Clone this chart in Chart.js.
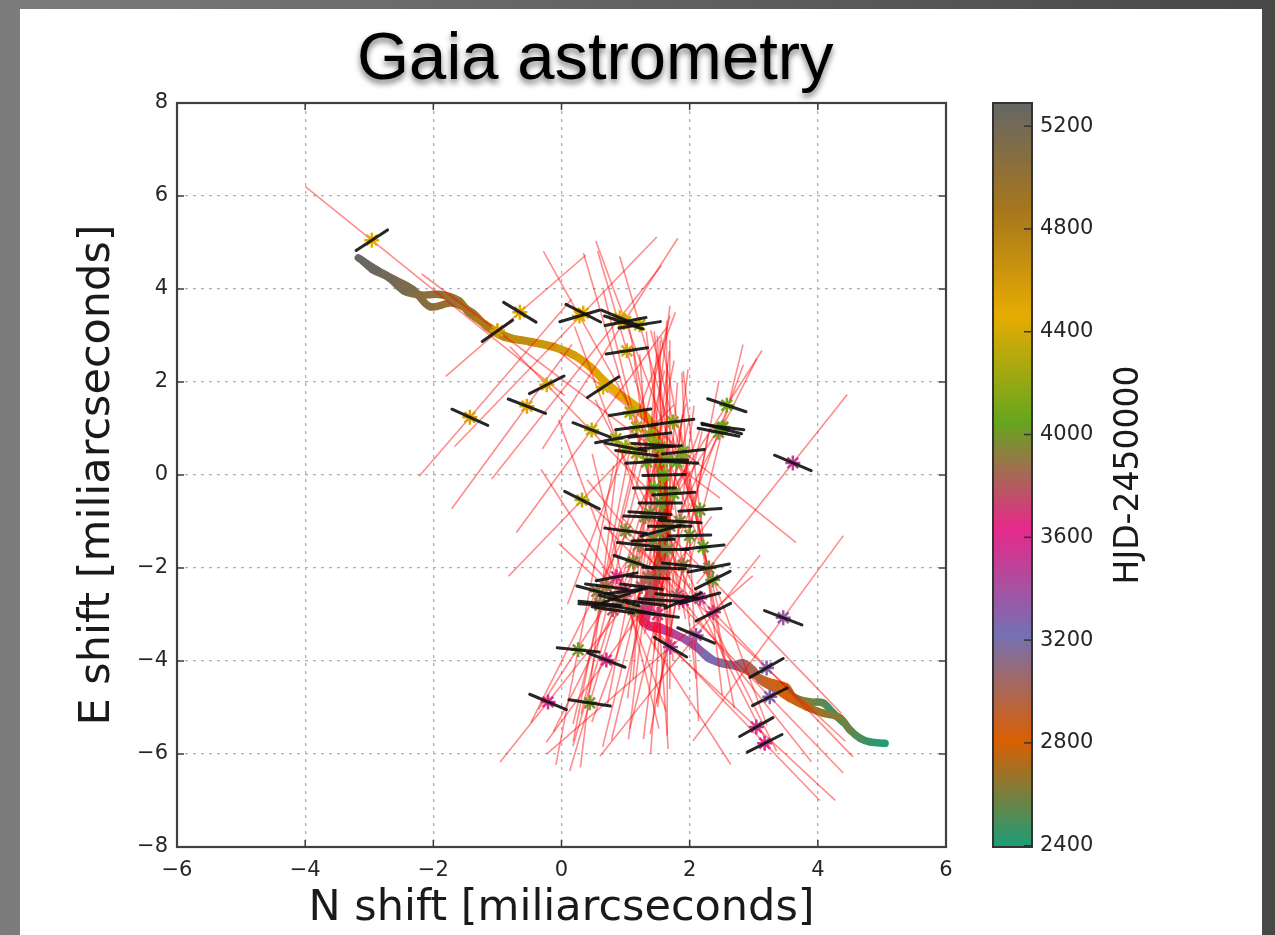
<!DOCTYPE html>
<html>
<head>
<meta charset="utf-8">
<title>Gaia astrometry</title>
<script src="https://cdn.jsdelivr.net/npm/chart.js@4.4.0/dist/chart.umd.min.js"></script>
<style>
  html, body { margin: 0; padding: 0; }
  body {
    width: 1275px; height: 935px; overflow: hidden; position: relative;
    background: linear-gradient(to right, #7c7c7c 0%, #676767 40%, #484848 100%);
  }
  #panel { position: absolute; left: 20px; top: 9px; width: 1242px; height: 926px; background: #fff; }
  #title {
    position: absolute; left: 357px; top: 22px; z-index: 2;
    font: 67px/67px 'Liberation Sans', Arial, sans-serif; color: #000;
    text-shadow: 0 4px 6px rgba(0, 0, 0, 0.55); white-space: nowrap;
  }
  #c { position: absolute; left: 0; top: 0; z-index: 1; }
</style>
</head>
<body>
<div id="panel"></div>
<div id="title">Gaia astrometry</div>
<canvas id="c" width="1275" height="935"></canvas>
<script>
// axis ticks
const xTicks = [-6, -4, -2, 0, 2, 4, 6];
const yTicks = [-8, -6, -4, -2, 0, 2, 4, 6, 8];
const cbTicks = [2400, 2800, 3200, 3600, 4000, 4400, 4800, 5200];
const cbMin = 2395;
const cbMax = 5290;

// Dark2 colours, spread evenly over the colour bar
const cmapColors = ['#1b9e77', '#d95f02', '#7570b3', '#e7298a', '#66a61e', '#e6ab02', '#a6761d', '#666666'];

// model track A (lower strand at the bottom right)
const modelAx = [5.05, 4.81, 4.66, 4.50, 4.34, 4.08, 3.83, 3.56, 3.36, 3.10,
  2.99, 2.83, 2.68, 2.42, 2.16, 1.85, 1.54, 1.27, 1.33, 1.45,
  1.55, 1.60, 1.58, 1.54, 1.49, 1.38, 1.18, 0.91, 0.65, 0.44,
  0.18, -0.13, -0.49, -0.90, -1.16, -1.38, -1.69, -2.05, -2.31, -2.60,
  -2.88, -3.17];
const modelAy = [-5.77, -5.74, -5.66, -5.48, -5.22, -5.12, -4.99, -4.80, -4.62, -4.41,
  -4.19, -4.04, -4.09, -4.02, -3.76, -3.48, -3.27, -3.16, -2.70, -2.20,
  -1.60, -1.00, -0.40, 0.17, 0.69, 1.12, 1.44, 1.72, 2.04, 2.33,
  2.58, 2.75, 2.86, 2.97, 3.18, 3.48, 3.70, 3.62, 3.98, 4.20,
  4.41, 4.67];
const modelAt = [2400, 2440, 2480, 2540, 2600, 2660, 2720, 2790, 2850, 2920,
  2980, 3040, 3110, 3200, 3300, 3400, 3540, 3640, 3740, 3840,
  3930, 4020, 4110, 4200, 4270, 4340, 4400, 4450, 4490, 4530,
  4570, 4610, 4660, 4740, 4800, 4880, 4960, 5040, 5110, 5180,
  5240, 5290];

// model track B (upper strand at the bottom right)
const modelBx = [4.39, 4.24, 4.08, 3.88, 3.62, 3.51, 3.30, 3.10, 2.95, 2.80,
  2.55, 2.30, 2.05, 1.80, 1.55, 1.32, 1.40, 1.50, 1.58, 1.62,
  1.60, 1.56, 1.50, 1.40, 1.20, 0.93, 0.66, 0.45, 0.20, -0.10,
  -0.45, -0.85, -1.20, -1.45, -1.60, -1.90, -2.20, -2.45, -2.70, -2.95,
  -3.10];
const modelBy = [-5.31, -5.12, -4.90, -4.88, -4.77, -4.56, -4.47, -4.37, -4.25, -4.15,
  -4.05, -3.95, -3.62, -3.45, -3.33, -3.20, -2.70, -2.20, -1.60, -1.00,
  -0.40, 0.17, 0.69, 1.12, 1.44, 1.72, 2.04, 2.33, 2.58, 2.75,
  2.86, 2.98, 3.25, 3.50, 3.75, 3.88, 3.87, 3.95, 4.25, 4.42,
  4.60];
const modelBt = [2400, 2450, 2510, 2580, 2660, 2730, 2800, 2880, 2960, 3040,
  3120, 3200, 3290, 3380, 3480, 3600, 3720, 3820, 3920, 4010,
  4100, 4190, 4260, 4330, 4390, 4440, 4480, 4520, 4560, 4600,
  4650, 4720, 4800, 4870, 4930, 5000, 5070, 5140, 5200, 5260,
  5290];

// single Gaia scans: position, epoch, along-scan angle (deg), scan line extent each side
const obsX = [-2.96, -0.65, -1.00, 0.34, 0.28, 0.91, 0.97, 1.22, 1.02, -0.23,
  -0.54, -1.43, 0.65, 1.07, 0.47, 0.85, 1.74, 1.38, 1.54, 1.17,
  1.33, 1.80, 1.45, 0.32, 2.58, 2.52, 2.45, 3.61, 1.54, 2.16,
  1.85, 1.69, 1.43, 2.21, 1.90, 1.12, 2.36, 0.86, 0.70, 0.60,
  1.12, 1.54, 1.80, 2.16, 2.37, 3.46, 0.26, 0.70, -0.21, 0.44,
  3.20, 3.25, 3.04, 3.17, 1.70, 2.10, 1.60, 1.30, 1.00, 1.35,
  1.00, 0.90, 1.38, 1.64, 1.43, 1.17, 1.25, 1.60, 1.75, 1.20,
  2.00, 0.80, 1.50, 1.00, 1.90, 2.30, 0.55, 1.65, 2.50, 1.00,
  0.60, 1.30, 0.95, 1.90, 1.55];
const obsY = [5.05, 3.50, 3.10, 3.48, 3.42, 3.38, 3.28, 3.23, 2.67, 1.94,
  1.48, 1.24, 1.89, 1.35, 0.97, 0.78, 1.14, 0.86, 0.60, 0.47,
  0.28, 0.28, -0.28, -0.54, 1.50, 1.03, 0.92, 0.26, -0.60, -0.75,
  -1.00, -1.10, -1.40, -1.55, -1.94, -1.87, -2.26, -2.19, -2.40, -2.76,
  -2.90, -2.69, -2.60, -2.65, -2.95, -3.07, -3.76, -3.98, -4.88, -4.90,
  -4.15, -4.77, -5.42, -5.77, -3.70, -3.45, 0.00, -0.90, -1.20, -2.20,
  -2.50, -2.70, -0.82, 0.32, 0.65, 1.03, -2.40, -2.00, -0.40, -1.50,
  -1.30, -2.90, -3.00, 0.60, 0.50, -2.00, -2.50, -1.60, 1.00, 3.30,
  -2.80, -2.75, -2.60, -2.70, -1.20];
const obsT = [4480, 4500, 4550, 4450, 4480, 4470, 4300, 4350, 4400, 4450,
  4500, 4550, 4420, 4300, 4350, 4250, 4150, 4200, 4150, 4250,
  4100, 4050, 4050, 4300, 4100, 4050, 4000, 3500, 4000, 4000,
  3950, 3900, 3950, 4050, 3900, 3950, 4000, 3650, 3900, 3950,
  3900, 3850, 3800, 3500, 3700, 3350, 4000, 3600, 3600, 4000,
  3300, 3300, 3550, 3600, 3500, 3400, 4100, 3950, 3950, 3850,
  3700, 3900, 3950, 4100, 4150, 4250, 3800, 3850, 4050, 3900,
  4000, 3800, 3700, 4200, 4100, 3900, 3900, 3950, 4050, 4400,
  3850, 3750, 3850, 3600, 3950];
const obsAngle = [42, -40, 44, -35, 22, -30, -25, 12, 12, 35,
  -28, -32, 42, 12, -28, 15, 10, 8, 5, -10,
  5, -5, 0, -35, -25, -10, -15, -30, 0, 5,
  -5, 0, 3, 8, -8, -25, 35, 15, -10, -8,
  -15, -5, -8, 20, 35, -28, -8, -28, -30, -12,
  38, 35, 38, 35, -40, -30, 2, -3, -10, -5,
  10, -20, -5, 0, -5, 10, -10, -3, 5, -8,
  2, -12, -10, -15, 8, 15, -20, 0, -20, 15,
  -5, -10, 25, 30, 20];
const obsRedUp = [1.55, 1.6, 1.7, 2.0, 1.5, 1.3, 2.0, 1.5, 2.2, 1.0,
  1.5, 3.0, 1.0, 3.5, 2.5, 2.5, 2.0, 2.5, 2.5, 3.0,
  2.5, 2.0, 2.5, 2.5, 1.3, 1.8, 1.5, 1.7, 3.5, 3.0,
  2.5, 4.0, 4.0, 2.5, 4.0, 3.0, 2.0, 3.5, 3.0, 3.5,
  4.0, 4.0, 3.5, 2.5, 2.5, 2.0, 4.0, 3.5, 4.0, 4.0,
  4.5, 4.5, 5.0, 5.0, 2.0, 2.0, 3.0, 3.5, 3.5, 3.5,
  3.0, 3.0, 3.5, 3.0, 3.0, 3.0, 4.0, 4.0, 3.5, 4.0,
  3.5, 4.0, 4.0, 3.0, 2.5, 3.0, 3.5, 4.0, 1.6, 1.8,
  3.5, 4.0, 3.0, 3.0, 3.0];
const obsRedDown = [4.5, 1.8, 5.0, 3.5, 3.5, 4.0, 3.0, 5.0, 3.5, 4.0,
  2.5, 1.5, 4.5, 2.5, 2.5, 3.0, 4.0, 4.0, 3.5, 3.0,
  4.0, 4.0, 3.5, 2.0, 4.5, 4.0, 4.5, 3.0, 3.0, 4.0,
  4.0, 3.5, 4.5, 3.5, 3.0, 3.5, 3.5, 3.0, 3.0, 3.0,
  2.5, 3.0, 3.0, 3.5, 3.8, 3.0, 2.5, 2.0, 1.5, 1.5,
  2.0, 2.0, 2.0, 1.5, 3.0, 3.0, 4.0, 3.5, 4.0, 3.5,
  3.0, 3.0, 4.0, 4.0, 4.0, 3.5, 3.5, 4.0, 4.0, 3.5,
  4.0, 3.0, 2.5, 3.5, 4.5, 3.5, 3.0, 4.0, 4.2, 4.5,
  3.5, 3.0, 4.0, 4.0, 5.0];
const errHalf = 0.33;

function hexToRgb(h) {
  return [parseInt(h.slice(1, 3), 16), parseInt(h.slice(3, 5), 16), parseInt(h.slice(5, 7), 16)];
}
const cmapRgb = cmapColors.map(hexToRgb);

function cmap(t) {
  const n = cmapRgb.length - 1;
  let f = (t - cbMin) / (cbMax - cbMin) * n;
  f = Math.max(0, Math.min(n, f));
  const i = Math.min(Math.floor(f), n - 1);
  const u = f - i;
  const a = cmapRgb[i], b = cmapRgb[i + 1];
  return 'rgb(' + a.map((v, k) => Math.round(v + (b[k] - v) * u)).join(',') + ')';
}

function fmt(v) {
  return v < 0 ? '\u2212' + Math.abs(v) : String(v);
}

const datasets = [];

// model tracks, coloured by epoch
[[modelAx, modelAy, modelAt], [modelBx, modelBy, modelBt]].forEach(([xs, ys, ts]) => {
  datasets.push({
    type: 'line',
    data: xs.map((x, i) => ({ x: x, y: ys[i] })),
    borderColor: cmap(ts[0]),
    borderWidth: 7.5,
    borderCapStyle: 'round',
    borderJoinStyle: 'round',
    tension: 0.35,
    pointRadius: 0,
    segment: { borderColor: c => cmap((ts[c.p0DataIndex] + ts[c.p1DataIndex]) / 2) },
    order: 4
  });
});

// scan lines (red) and along-scan error bars (black)
obsX.forEach((x, i) => {
  const y = obsY[i];
  const a = obsAngle[i] * Math.PI / 180;
  const ca = Math.cos(a), sa = Math.sin(a);
  datasets.push({
    type: 'line',
    data: [
      { x: x + sa * obsRedDown[i], y: y - ca * obsRedDown[i] },
      { x: x - sa * obsRedUp[i], y: y + ca * obsRedUp[i] }
    ],
    borderColor: 'rgba(255, 0, 0, 0.45)',
    borderWidth: 1.6,
    pointRadius: 0,
    order: 3
  });
  datasets.push({
    type: 'line',
    data: [
      { x: x - ca * errHalf, y: y - sa * errHalf },
      { x: x + ca * errHalf, y: y + sa * errHalf }
    ],
    borderColor: 'rgba(15, 15, 15, 0.9)',
    borderWidth: 3,
    borderCapStyle: 'round',
    pointRadius: 0,
    order: 1
  });
});

// measured positions
datasets.push({
  type: 'scatter',
  data: obsX.map((x, i) => ({ x: x, y: obsY[i] })),
  pointStyle: 'star',
  pointRadius: 7.5,
  pointBorderWidth: 2.5,
  pointBorderColor: obsT.map(cmap),
  pointBackgroundColor: obsT.map(cmap),
  order: 2
});

function tick(ctx, x1, y1, x2, y2) {
  ctx.beginPath();
  ctx.moveTo(x1, y1);
  ctx.lineTo(x2, y2);
  ctx.stroke();
}

const decor = {
  id: 'decor',
  afterDatasetsDraw(chart) {
    const { ctx, chartArea: a, scales } = chart;
    ctx.save();
    ctx.strokeStyle = '#3a3a3a';
    ctx.lineWidth = 1.5;
    xTicks.forEach(v => {
      const px = scales.x.getPixelForValue(v);
      tick(ctx, px, a.bottom, px, a.bottom - 7);
      tick(ctx, px, a.top, px, a.top + 7);
    });
    yTicks.forEach(v => {
      const py = scales.y.getPixelForValue(v);
      tick(ctx, a.left, py, a.left + 7, py);
      tick(ctx, a.right, py, a.right - 7, py);
    });
    ctx.lineWidth = 2.2;
    ctx.strokeStyle = '#404040';
    ctx.strokeRect(a.left, a.top, a.right - a.left, a.bottom - a.top);
    ctx.restore();
  },
  afterDraw(chart) {
    const { ctx, chartArea: a } = chart;
    const cb = chart.scales.cb;
    const top = cb.getPixelForValue(cbMax);
    const bot = cb.getPixelForValue(cbMin);
    const left = a.right + 47;
    const w = 39;
    ctx.save();
    const g = ctx.createLinearGradient(0, bot, 0, top);
    cmapColors.forEach((c, i) => g.addColorStop(i / (cmapColors.length - 1), c));
    ctx.fillStyle = g;
    ctx.fillRect(left, top, w, bot - top);
    ctx.strokeStyle = '#333';
    ctx.lineWidth = 2;
    ctx.strokeRect(left, top, w, bot - top);
    ctx.lineWidth = 1.5;
    cbTicks.forEach(v => {
      const py = cb.getPixelForValue(v);
      tick(ctx, left + w - 8, py, left + w, py);
    });
    ctx.translate(a.right + 192, (top + bot) / 2);
    ctx.rotate(-Math.PI / 2);
    ctx.fillStyle = '#1a1a1a';
    ctx.font = '33px "DejaVu Sans"';
    ctx.textAlign = 'center';
    ctx.textBaseline = 'alphabetic';
    ctx.fillText('HJD-2450000', 0, 0);
    ctx.restore();
  }
};

Chart.defaults.font.family = "'DejaVu Sans', sans-serif";
Chart.defaults.color = '#262626';

new Chart(document.getElementById('c'), {
  type: 'scatter',
  data: { datasets: datasets },
  plugins: [decor],
  options: {
    responsive: false,
    animation: false,
    events: [],
    layout: { autoPadding: false, padding: { top: 103, left: 0, right: 0, bottom: 0 } },
    plugins: { legend: { display: false }, tooltip: { enabled: false } },
    scales: {
      x: {
        type: 'linear',
        min: -6,
        max: 6,
        afterBuildTicks: s => { s.ticks = xTicks.map(v => ({ value: v })); },
        afterFit: s => { s.height = 88; },
        grid: { color: '#b0b0b0', lineWidth: 1.3, drawTicks: false },
        border: { display: false, dash: [3, 5] },
        ticks: { padding: 11, font: { size: 21 }, maxRotation: 0, callback: fmt },
        title: {
          display: true, text: 'N shift [miliarcseconds]',
          font: { size: 43 }, color: '#1a1a1a', padding: { top: 0, bottom: 0 }
        }
      },
      y: {
        type: 'linear',
        min: -8,
        max: 8,
        afterBuildTicks: s => { s.ticks = yTicks.map(v => ({ value: v })); },
        afterFit: s => { s.width = 177; },
        grid: { color: '#b0b0b0', lineWidth: 1.3, drawTicks: false },
        border: { display: false, dash: [3, 5] },
        ticks: { padding: 9, font: { size: 21 }, callback: fmt },
        title: {
          display: true, text: 'E shift [miliarcseconds]',
          font: { size: 43 }, color: '#1a1a1a', padding: { top: 72, bottom: 0 }
        }
      },
      cb: {
        type: 'linear',
        position: 'right',
        min: cbMin,
        max: cbMax,
        afterBuildTicks: s => { s.ticks = cbTicks.map(v => ({ value: v })); },
        afterFit: s => { s.width = 329; s.paddingTop = 0; s.paddingBottom = 0; },
        grid: { display: false, drawTicks: false },
        border: { display: false },
        ticks: { padding: 94, font: { size: 21 }, callback: v => String(v) }
      }
    }
  }
});
</script>
</body>
</html>
